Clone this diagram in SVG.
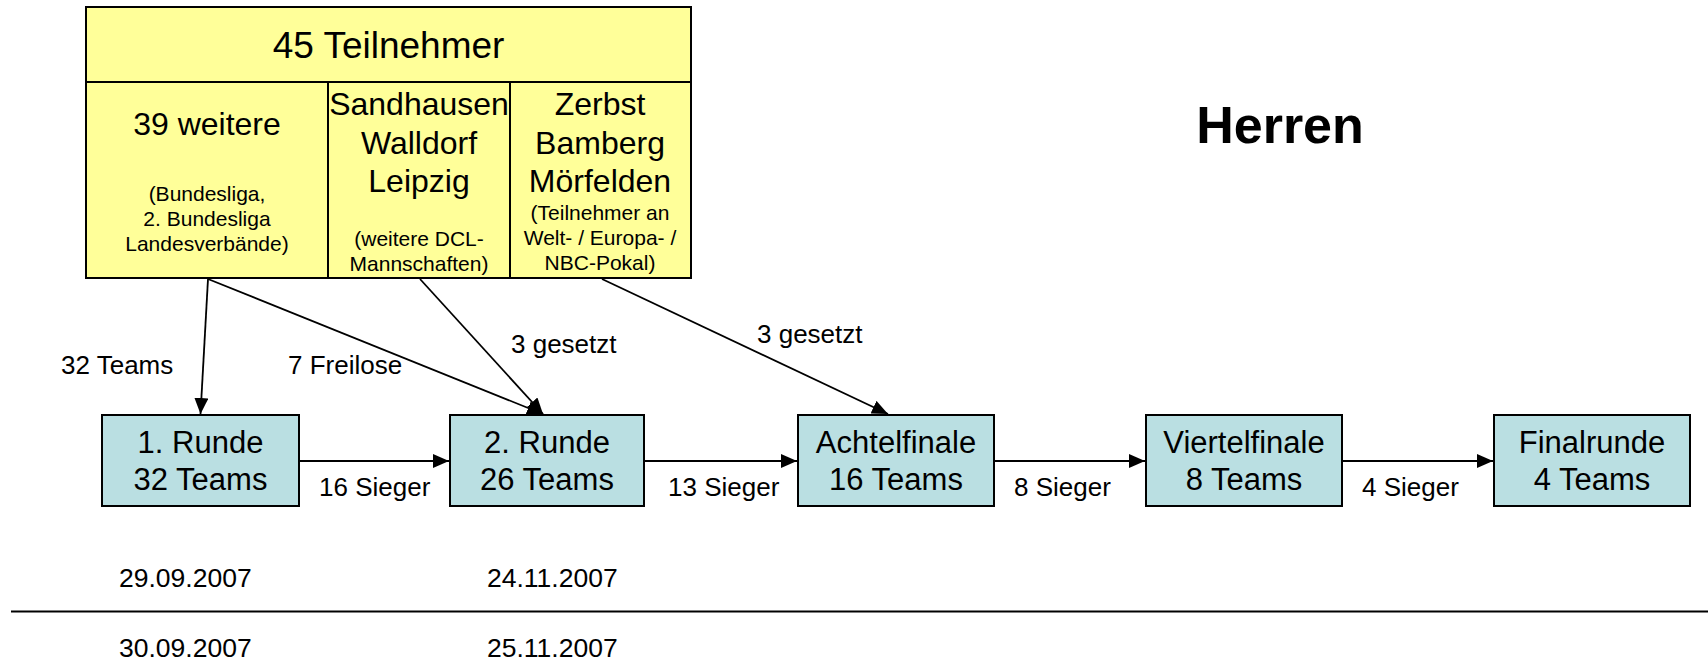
<svg xmlns="http://www.w3.org/2000/svg" width="1708" height="661" viewBox="0 0 1708 661">
<style>
text{font-family:"Liberation Sans",Arial,sans-serif;fill:#000}
.yb{fill:#FFFF99;stroke:#000;stroke-width:2}
.tb{fill:#BADFE2;stroke:#000;stroke-width:2}
.c{text-anchor:middle}
.big{font-size:37px}
.mid{font-size:32px}
.sm{font-size:21px}
.bx{font-size:31px;text-anchor:middle}
.lb{font-size:26px}
.dt{font-size:26.5px}
.conn{stroke:#000;stroke-width:1.8;fill:none;marker-end:url(#ah)}
</style>
<defs>
<marker id="ah" markerUnits="userSpaceOnUse" markerWidth="16" markerHeight="14" refX="16" refY="7" orient="auto">
<path d="M0,0 L16,7 L0,14 Z" fill="#000"/>
</marker>
</defs>
<rect width="1708" height="661" fill="#fff"/>

<g id="teilnehmer">
<rect class="yb" x="86" y="7" width="605" height="271"/>
<line x1="86" y1="82" x2="691" y2="82" stroke="#000" stroke-width="2"/>
<line x1="328" y1="82" x2="328" y2="278" stroke="#000" stroke-width="2"/>
<line x1="510" y1="82" x2="510" y2="278" stroke="#000" stroke-width="2"/>
<text class="big c" x="388.5" y="58">45 Teilnehmer</text>
<g id="weitere">
<text class="mid c" x="207" y="135">39 weitere</text>
<text class="sm c" x="207" y="201">(Bundesliga,</text>
<text class="sm c" x="207" y="226">2. Bundesliga</text>
<text class="sm c" x="207" y="251">Landesverbände)</text>
</g>
<g id="dcl">
<text class="mid c" x="419" y="115">Sandhausen</text>
<text class="mid c" x="419" y="154">Walldorf</text>
<text class="mid c" x="419" y="192">Leipzig</text>
<text class="sm c" x="419" y="246">(weitere DCL-</text>
<text class="sm c" x="419" y="271">Mannschaften)</text>
</g>
<g id="pokal">
<text class="mid c" x="600" y="115">Zerbst</text>
<text class="mid c" x="600" y="154">Bamberg</text>
<text class="mid c" x="600" y="192">Mörfelden</text>
<text class="sm c" x="600" y="220">(Teilnehmer an</text>
<text class="sm c" x="600" y="245">Welt- / Europa- /</text>
<text class="sm c" x="600" y="270">NBC-Pokal)</text>
</g>
</g>

<g id="herren">
<text x="1280" y="143" font-size="52" font-weight="bold" text-anchor="middle">Herren</text>
</g>

<g id="runde1">
<rect class="tb" x="102" y="415" width="197" height="91"/>
<text class="bx" x="200.5" y="453">1. Runde</text>
<text class="bx" x="200.5" y="490">32 Teams</text>
</g>
<g id="runde2">
<rect class="tb" x="450" y="415" width="194" height="91"/>
<text class="bx" x="547" y="453">2. Runde</text>
<text class="bx" x="547" y="490">26 Teams</text>
</g>
<g id="achtelfinale">
<rect class="tb" x="798" y="415" width="196" height="91"/>
<text class="bx" x="896" y="453">Achtelfinale</text>
<text class="bx" x="896" y="490">16 Teams</text>
</g>
<g id="viertelfinale">
<rect class="tb" x="1146" y="415" width="196" height="91"/>
<text class="bx" x="1244" y="453">Viertelfinale</text>
<text class="bx" x="1244" y="490">8 Teams</text>
</g>
<g id="finalrunde">
<rect class="tb" x="1494" y="415" width="196" height="91"/>
<text class="bx" x="1592" y="453">Finalrunde</text>
<text class="bx" x="1592" y="490">4 Teams</text>
</g>

<g id="connectors">
<line class="conn" x1="208" y1="279" x2="200.5" y2="414"/>
<line class="conn" x1="208" y1="279" x2="543" y2="414"/>
<line class="conn" x1="420" y1="279" x2="543" y2="414"/>
<line class="conn" x1="602" y1="279" x2="888" y2="414"/>
<line class="conn" x1="299" y1="461" x2="449" y2="461"/>
<line class="conn" x1="644" y1="461" x2="797" y2="461"/>
<line class="conn" x1="994" y1="461" x2="1145" y2="461"/>
<line class="conn" x1="1342" y1="461" x2="1493" y2="461"/>
<text class="lb" x="61" y="374">32 Teams</text>
<text class="lb" x="288" y="374">7 Freilose</text>
<text class="lb" x="511" y="353" font-size="26.5">3 gesetzt</text>
<text class="lb" x="757" y="343" font-size="26.5">3 gesetzt</text>
<text class="lb" x="319" y="496">16 Sieger</text>
<text class="lb" x="668" y="496">13 Sieger</text>
<text class="lb" x="1014" y="496">8 Sieger</text>
<text class="lb" x="1362" y="496">4 Sieger</text>
</g>

<g id="termine">
<line x1="11" y1="611.5" x2="1708" y2="611.5" stroke="#000" stroke-width="2.2"/>
<text class="dt" x="119" y="587">29.09.2007</text>
<text class="dt" x="487" y="587">24.11.2007</text>
<text class="dt" x="119" y="657">30.09.2007</text>
<text class="dt" x="487" y="657">25.11.2007</text>
</g>
</svg>
